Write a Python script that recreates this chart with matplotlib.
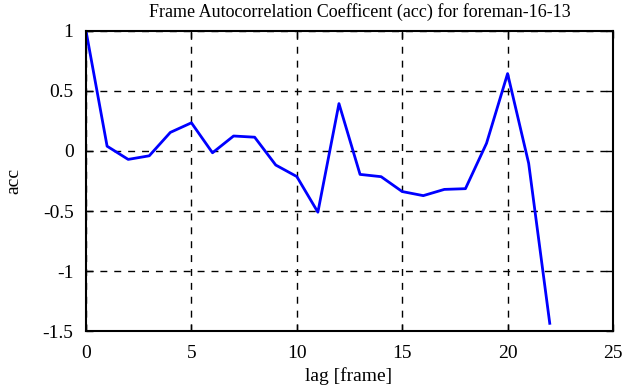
import matplotlib
matplotlib.use("Agg")
import matplotlib.pyplot as plt

lags = list(range(23))
acc = [1.0, 0.04, -0.07, -0.04, 0.155, 0.235, -0.015, 0.125, 0.115, -0.117,
       -0.213, -0.51, 0.395, -0.195, -0.214, -0.338, -0.372, -0.32, -0.314,
       0.064, 0.645, -0.103, -1.436]

xticks = [0, 5, 10, 15, 20, 25]
yticks = [1, 0.5, 0, -0.5, -1, -1.5]
yticklabels = ["1", "0.5", "0", "-0.5", "-1", "-1.5"]

plt.rcParams['font.family'] = ['Liberation Serif', 'DejaVu Serif']
plt.rcParams['font.size'] = 14

fig = plt.figure(figsize=(6.41, 3.87), dpi=100)
ax = fig.add_axes([0.1342, 0.1447, 0.8221, 0.7752])
ax.plot(lags, acc, color='#0000ff', linewidth=2)
ax.set_xlim(0, 25)
ax.set_ylim(-1.5, 1)
ax.set_xticks(xticks)
ax.set_yticks(yticks)
ax.set_yticklabels(yticklabels)
ax.grid(True, color='black', linestyle=(0, (5, 5)), linewidth=1)
ax.tick_params(direction='in', top=True, right=True, length=5, width=1)
ax.tick_params(axis='y', pad=9)
ax.tick_params(axis='x', pad=10)
for s in ax.spines.values():
    s.set_linewidth(1.5)

# axis labels and title placed in figure pixels like the original
fig.text(349 / 641, 1 - 376 / 387, 'lag [frame]', ha='center', va='center')
fig.text(14 / 641, 1 - 181 / 387, 'acc', ha='center', va='center', rotation=90)
fig.text(360 / 641, 1 - 12 / 387, 'Frame Autocorrelation Coefficent (acc) for foreman-16-13',
         ha='center', va='center', fontsize=13)

fig.savefig('out.png', dpi=100)
